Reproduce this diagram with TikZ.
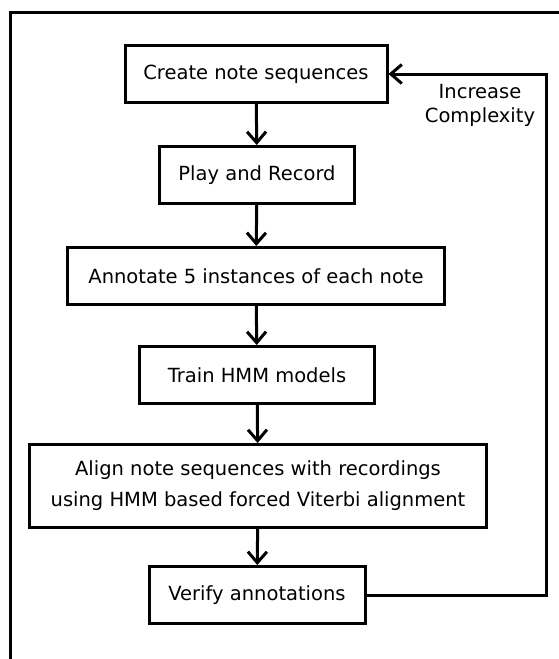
\documentclass[tikz,border=0pt]{standalone}
\usepackage{fontspec}
\setmainfont{DejaVu Sans}
\usetikzlibrary{arrows.meta}

\begin{document}
\begin{tikzpicture}
  [x=1pt,y=-1pt,line width=3pt,
   every node/.style={draw,rectangle,line width=3pt,inner sep=0pt,minimum height=57pt,font=\fontsize{19.5}{31}\selectfont},
   flow/.style={line width=3pt,-{Straight Barb[length=11pt,width=19pt,line width=3pt]}}]
  \useasboundingbox (0,0) rectangle (559,659);
  \draw[line width=3pt] (10,659) -- (10,12) -- (559,12);
  \node[minimum width=262pt] (a) at (256,74) {Create note sequences};
  \node[minimum width=195pt] (b) at (257,175) {Play and Record};
  \node[minimum width=377pt] (c) at (256,276) {Annotate 5 instances of each note};
  \node[minimum width=235pt] (d) at (257,375) {Train HMM models};
  \node[align=center,minimum width=457pt,minimum height=83pt] (e) at (258,486)
    {Align note sequences with recordings\\using HMM based forced Viterbi alignment};
  \node[minimum width=216pt] (f) at (257,595) {Verify annotations};
  \coordinate (r) at (546,74);
  \foreach \from/\to in {a/b,b/c,c/d,d/e,e/f}
    \draw[flow] (\from) -- (\to);
  \draw[flow] (f.east) -| (r) -- (a.east);
  \node[draw=none,align=center,minimum height=0pt,font=\fontsize{19.5}{24}\selectfont] (g) at (480,105) {Increase\\Complexity};

\end{tikzpicture}
\end{document}
